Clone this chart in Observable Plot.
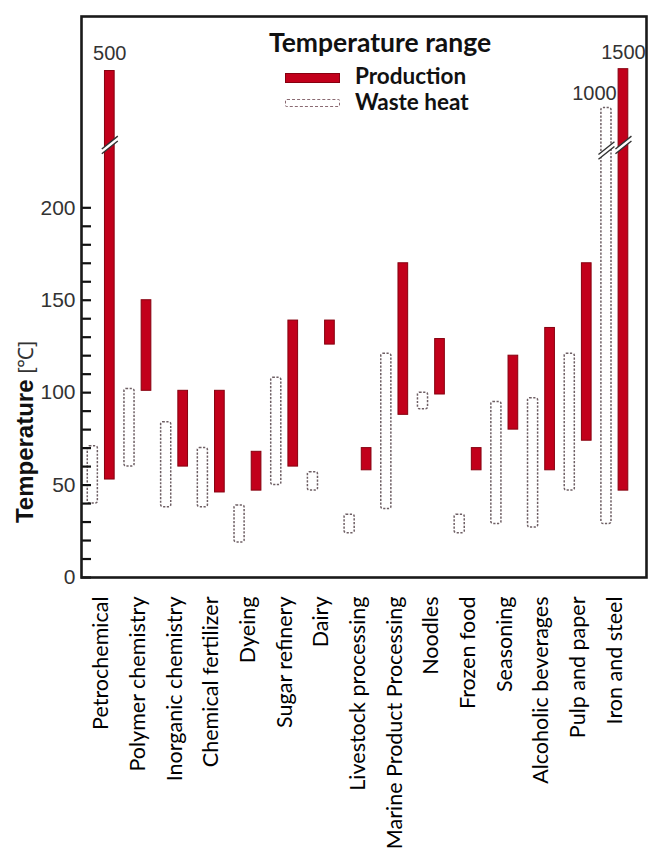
<!DOCTYPE html>
<html><head><meta charset="utf-8">
<script src="https://cdn.jsdelivr.net/npm/d3@7"></script>
<script src="https://cdn.jsdelivr.net/npm/@observablehq/plot@0.6"></script>
<style>
body{margin:0;background:#fff;}
#wrap{position:relative;width:648px;height:863px;overflow:hidden;}
.lg{position:absolute;font-family:Lato,"Open Sans",sans-serif;color:#111;white-space:nowrap;line-height:1;}
</style></head><body><div id="wrap"></div>
<script>
const categories = ["Petrochemical","Polymer chemistry","Inorganic chemistry","Chemical fertilizer","Dyeing","Sugar refinery","Dairy","Livestock processing","Marine Product Processing","Noodles","Frozen food","Seasoning","Alcoholic beverages","Pulp and paper","Iron and steel"];
const prodLow   = [53, 101, 60, 46, 47, 60, 126, 58, 88, 99, 58, 80, 58, 74, 47];
const prodHigh  = [500, 150, 101, 101, 68, 139, 139, 70, 170, 129, 70, 120, 135, 170, 1500];
const wasteLow  = [40, 60, 38, 38, 19, 50, 47, 24, 37, 91, 24, 29, 27, 47, 29];
const wasteHigh = [71, 102, 84, 70, 39, 108, 57, 34, 121, 100, 34, 95, 97, 121, 1000];
const yTicks = [0, 50, 100, 150, 200];

// axis break: values above it are drawn to the height the source shows them at (axis units)
const axisBreak = 234;
const overValue = [500, 1000, 1500];
const overDrawnTop = [274, 254, 275];

const drawn = v => v > axisBreak ? overDrawnTop[overValue.indexOf(v)] : v;

const prodRows = categories.map((c, i) => ({category: c, low: prodLow[i], high: prodHigh[i], top: drawn(prodHigh[i])}));
const wasteRows = categories.map((c, i) => ({category: c, low: wasteLow[i], high: wasteHigh[i], top: drawn(wasteHigh[i])}));
const prodOver = prodRows.filter(d => d.high > axisBreak);
const wasteOver = wasteRows.filter(d => d.high > axisBreak);

const RED = "#c2001b", RED_DARK = "#86000f", WASTE = "#6e5f64";
const OFF = 8.5;

const slashGap = {draw(ctx, size) { const r = Math.sqrt(size / Math.PI);
  ctx.moveTo(-r, r * 0.8 + 2.4); ctx.lineTo(r, -r * 0.8 + 2.4); ctx.lineTo(r, -r * 0.8 - 2.4); ctx.lineTo(-r, r * 0.8 - 2.4); ctx.closePath(); }};
const slashLines = {draw(ctx, size) { const r = Math.sqrt(size / Math.PI);
  ctx.moveTo(-r, r * 0.8 + 2.4); ctx.lineTo(r, -r * 0.8 + 2.4); ctx.moveTo(-r, r * 0.8 - 2.4); ctx.lineTo(r, -r * 0.8 - 2.4); }};

const chart = Plot.plot({
  width: 648, height: 863,
  marginLeft: 81, marginRight: 2, marginTop: 16, marginBottom: 286,
  style: {background: "#fff", overflow: "visible"},
  x: {domain: categories, paddingInner: 0, paddingOuter: 0.2, align: 0.1, round: false, label: null},
  y: {domain: [0, 303.5], label: null},
  marks: [
    Plot.barY(wasteRows, {x: "category", y1: "low", y2: "top", dx: -OFF, insetLeft: 13.3, insetRight: 13.3, rx: 2,
      fill: "white", stroke: WASTE, strokeWidth: 1.5, strokeDasharray: "2.2,1.5"}),
    Plot.barY(prodRows, {x: "category", y1: "low", y2: "top", dx: OFF, insetLeft: 13.5, insetRight: 13.5,
      fill: RED, stroke: RED_DARK, strokeWidth: 1}),
    Plot.dot(prodOver, {x: "category", y: () => axisBreak, dx: OFF, r: 8, symbol: slashGap, fill: "white", stroke: "none"}),
    Plot.dot(prodOver, {x: "category", y: () => axisBreak, dx: OFF, r: 8, symbol: slashLines, fill: "none", stroke: "#333", strokeWidth: 1.4}),
    Plot.dot(wasteOver, {x: "category", y: () => axisBreak - 3, dx: -OFF, r: 8, symbol: slashGap, fill: "white", stroke: "none"}),
    Plot.dot(wasteOver, {x: "category", y: () => axisBreak - 3, dx: -OFF, r: 8, symbol: slashLines, fill: "none", stroke: "#333", strokeWidth: 1.4}),
    Plot.text(prodOver, {x: "category", y: "top", text: d => String(d.high), dx: OFF, dy: -17, fontSize: 20, fill: "#333", fontFamily: "Liberation Sans, Arial, sans-serif"}),
    Plot.text(wasteOver, {x: "category", y: "top", text: d => String(d.high), dx: -OFF - 12, dy: -14, fontSize: 20, fill: "#333", fontFamily: "Liberation Sans, Arial, sans-serif"}),
    Plot.axisY({ticks: d3.range(0, 201, 10), tickSize: 10, dx: 10, tickFormat: () => "", strokeWidth: 2.2, stroke: "#111"}),
    Plot.axisY({ticks: yTicks, tickSize: 0, tickPadding: 6, fontSize: 21, fill: "#333", fontFamily: "Liberation Sans, Arial, sans-serif", label: null}),
    Plot.axisX({tickSize: 0, tickRotate: -90, tickPadding: 19, fontSize: 21.5, fill: "#000", fontFamily: "Lato, 'Open Sans', sans-serif", label: null}),
    Plot.frame({stroke: "#1a1a1a", strokeWidth: 2.6})
  ]
});

const wrap = document.getElementById("wrap");
wrap.appendChild(chart);

// y-axis title with mixed weights
const svg = d3.select(chart);
const t = svg.append("text")
  .attr("transform", "translate(33,432) rotate(-90)")
  .attr("text-anchor", "middle")
  .attr("font-family", "Liberation Sans, Arial, sans-serif")
  .attr("font-size", 24);
t.append("tspan").attr("font-weight", "bold").attr("fill", "#111").text("Temperature");
t.append("tspan").attr("fill", "#333").attr("font-size", 21).text(" [℃]");

// legend inside the frame
function add(html, style) { const d = document.createElement("div"); d.className = "lg"; d.innerHTML = html; Object.assign(d.style, style); wrap.appendChild(d); }
add("Temperature range", {left: "269px", top: "29px", fontSize: "26.5px", fontWeight: "bold"});
add("", {left: "285px", top: "73px", width: "55px", height: "10px", background: RED, boxSizing: "border-box", border: "1px solid " + RED_DARK});
add("Production", {left: "355px", top: "65px", fontSize: "22.5px", fontWeight: "bold"});
add("", {left: "285px", top: "99px", width: "55px", height: "8px", boxSizing: "border-box", border: "1.3px dashed #8a6a72", borderRadius: "2px"});
add("Waste heat", {left: "355px", top: "91px", fontSize: "22.5px", fontWeight: "bold"});
</script></body></html>
